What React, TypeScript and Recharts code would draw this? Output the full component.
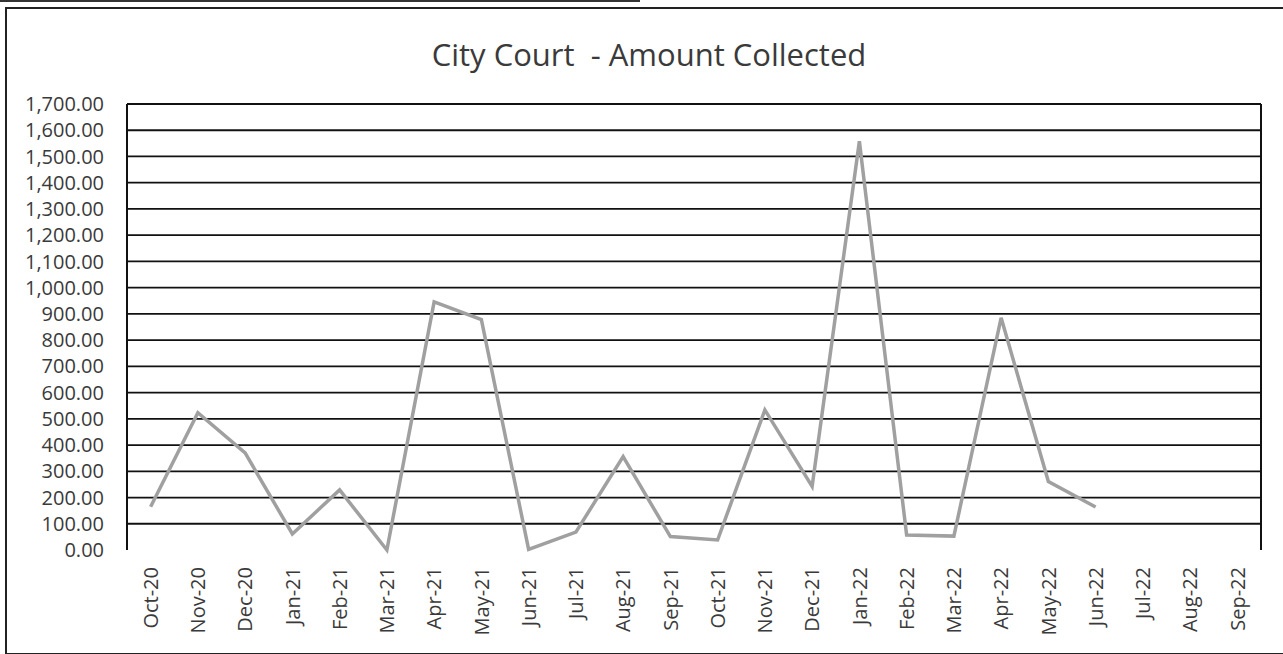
import { LineChart, Line, XAxis, YAxis, ReferenceLine } from 'recharts';

const months = [
  'Oct-20', 'Nov-20', 'Dec-20', 'Jan-21', 'Feb-21', 'Mar-21', 'Apr-21', 'May-21',
  'Jun-21', 'Jul-21', 'Aug-21', 'Sep-21', 'Oct-21', 'Nov-21', 'Dec-21', 'Jan-22',
  'Feb-22', 'Mar-22', 'Apr-22', 'May-22', 'Jun-22', 'Jul-22', 'Aug-22', 'Sep-22',
];

const amounts: (number | null)[] = [
  165, 523, 370, 61, 229, 0, 946, 878,
  2, 68, 356, 51, 38, 534, 242, 1558,
  57, 53, 885, 261, 164, null, null, null,
];

const yTicks = [0, 100, 200, 300, 400, 500, 600, 700, 800, 900, 1000, 1100, 1200, 1300, 1400, 1500, 1600, 1700];
const gridValues = yTicks.filter((v) => v > 0);

const data = months.map((m, i) => ({ month: m, amount: amounts[i] }));

const FONT = '"Open Sans", sans-serif';
const TEXT = '#3a3a3a';

function fmtMoney(v: number) {
  return v.toLocaleString('en-US', { minimumFractionDigits: 2, maximumFractionDigits: 2 });
}

function MonthTick({ x, y, payload }: any) {
  return (
    <g transform={`translate(${x},${y + 9})`}>
      <text
        transform="rotate(-90)"
        textAnchor="end"
        dy="0.36em"
        fontSize={20}
        fontFamily={FONT}
        fill={TEXT}
      >
        {payload.value}
      </text>
    </g>
  );
}

export default function App() {
  return (
    <div style={{ position: 'absolute', left: 0, top: 0, width: 1283, height: 654, background: '#fff', overflow: 'hidden' }}>
      <div style={{ position: 'absolute', left: 0, top: 0, width: 640, height: 0, borderTop: '2px solid #333' }} />
      <div
        style={{
          position: 'absolute',
          left: 5,
          top: 7,
          width: 1300,
          height: 644,
          borderLeft: '2px solid #222',
          borderTop: '2px solid #222',
          borderBottom: '2px solid #222',
        }}
      />
      <div
        style={{
          position: 'absolute',
          left: 0,
          top: 34,
          width: 1298,
          textAlign: 'center',
          fontFamily: FONT,
          fontSize: 31,
          color: TEXT,
          lineHeight: '40px',
          whiteSpace: 'pre',
        }}
      >
        {'City Court  - Amount Collected'}
      </div>
      <div style={{ position: 'absolute', left: 0, top: 0 }}>
        <LineChart width={1283} height={654} data={data} margin={{ top: 104, right: 0, bottom: 34, left: 17 }}>
          <XAxis
            dataKey="month"
            scale="band"
            interval={0}
            axisLine={false}
            tickLine={false}
            height={70}
            tick={<MonthTick />}
          />
          <YAxis
            yAxisId="left"
            domain={[0, 1700]}
            ticks={yTicks}
            interval={0}
            width={110}
            tickFormatter={fmtMoney}
            tickLine={false}
            tickSize={0}
            tickMargin={23}
            axisLine={{ stroke: '#111', strokeWidth: 2 }}
            tick={{ fontSize: 20, fontFamily: FONT, fill: TEXT }}
          />
          <YAxis
            yAxisId="right"
            orientation="right"
            domain={[0, 1700]}
            width={22}
            tick={false}
            tickLine={false}
            axisLine={{ stroke: '#111', strokeWidth: 2 }}
          />
          {gridValues.map((v) => (
            <ReferenceLine key={v} yAxisId="left" y={v} stroke="#111" strokeWidth={1.8} ifOverflow="extendDomain" />
          ))}
          <Line
            yAxisId="left"
            type="linear"
            dataKey="amount"
            stroke="#a0a0a0"
            strokeWidth={3.5}
            dot={false}
            connectNulls={false}
            isAnimationActive={false}
          />
        </LineChart>
      </div>
    </div>
  );
}
